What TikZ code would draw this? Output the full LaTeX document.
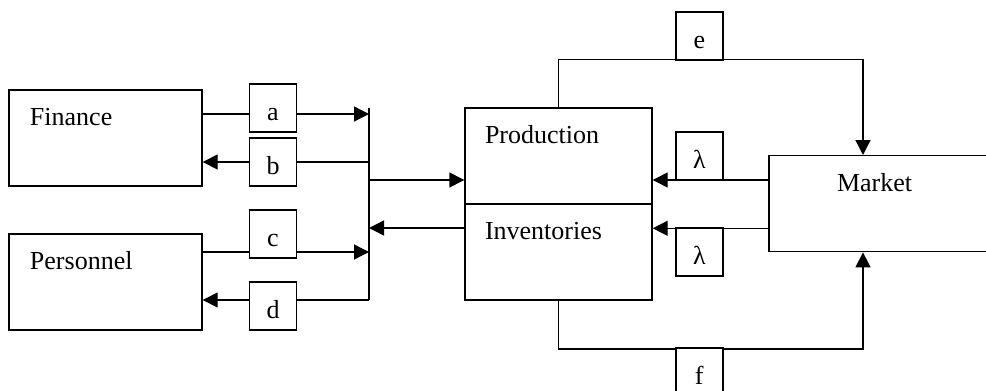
\documentclass[tikz,border=0pt]{standalone}
\usepackage{fontspec}
\setmainfont{Liberation Serif}
\usetikzlibrary{positioning,arrows.meta}

\begin{document}
\begin{tikzpicture}[x=0.5pt,y=-0.5pt,>={Triangle[length=7.5pt,width=7.5pt]},
  line width=0.7pt,
  font=\fontsize{13}{15}\selectfont,
  unit/.style={draw,fill=white,inner sep=0pt,minimum height=48pt},
  flowbox/.style={draw,fill=white,inner sep=0pt,minimum width=23.5pt,minimum height=24pt,
    text height=12pt,text depth=0pt},
  tag/.style={anchor=base west,inner sep=0pt}]

\clip (0,0) rectangle (986,391);

% departments
\node[unit,minimum width=96.5pt] (fin) at (105.5,138) {};
\node[unit,minimum width=96.5pt] (per) at (105.5,282) {};
\node[unit,minimum width=93.5pt] (prod) at (558.5,156) {};
\node[unit,minimum width=93.5pt] (inv) at (558.5,252) {};
\node[unit,minimum width=115.5pt] (mkt) at (884.5,203.7) {};

\node[tag] at ([shift={(21,36.5)}]fin.north west) {Finance};
\node[tag] at ([shift={(21,36.5)}]per.north west) {Personnel};
\node[tag] at ([shift={(20,36)}]prod.north west) {Production};
\node[tag] at ([shift={(20,36.5)}]inv.north west) {Inventories};
\node[tag] at ([shift={(68,36.3)}]mkt.north west) {Market};

% collecting bus
\coordinate (bus) at (369,108);
\coordinate (busend) at (369,300);
\draw (bus) -- (busend);

\path ([shift={(0,-24)}]fin.east) coordinate (fa)
      ([shift={(0,24)}]fin.east) coordinate (fb)
      ([shift={(0,-30)}]per.east) coordinate (pc)
      ([shift={(0,18)}]per.east) coordinate (pd);
\draw[->] (fa) -- (fa -| bus);
\draw[->] (fb -| bus) -- (fb);
\draw[->] (pc) -- (pc -| bus);
\draw[->] (busend) -- (pd);

\path ([shift={(0,24)}]prod.west) coordinate (pw)
      ([shift={(0,-24)}]inv.west) coordinate (iw);
\draw[->] (pw -| bus) -- (pw);
\draw[->] (iw) -- (iw -| bus);

% market links
\path ([shift={(0,-23.7)}]mkt.west) coordinate (mu)
      ([shift={(0,24.6)}]mkt.west) coordinate (ml);
\draw[->] (mu) -- (mu -| prod.east);
\draw[->] (ml) -- (ml -| inv.east);

\coordinate (mx) at (863,0);
\draw[->] (prod.north) |- ++(0,-48) coordinate (et) -| (mx |- mkt.north);
\draw[->] (inv.south) |- ++(0,48.3) coordinate (fbt) -| (mx |- mkt.south);

% flow labels
\node[flowbox] (a) at (273,108) {a};
\node[flowbox] (b) at (273,162) {b};
\node[flowbox] (c) at (273,234) {c};
\node[flowbox] (d) at (273,306) {d};
\node[flowbox] (e) at (699.3,36) {e};
\node[flowbox] (l1) at (699.3,156) {λ};
\node[flowbox] (l2) at (699.3,252) {λ};
\node[flowbox] (f) at (699.3,372) {f};

\end{tikzpicture}
\end{document}
